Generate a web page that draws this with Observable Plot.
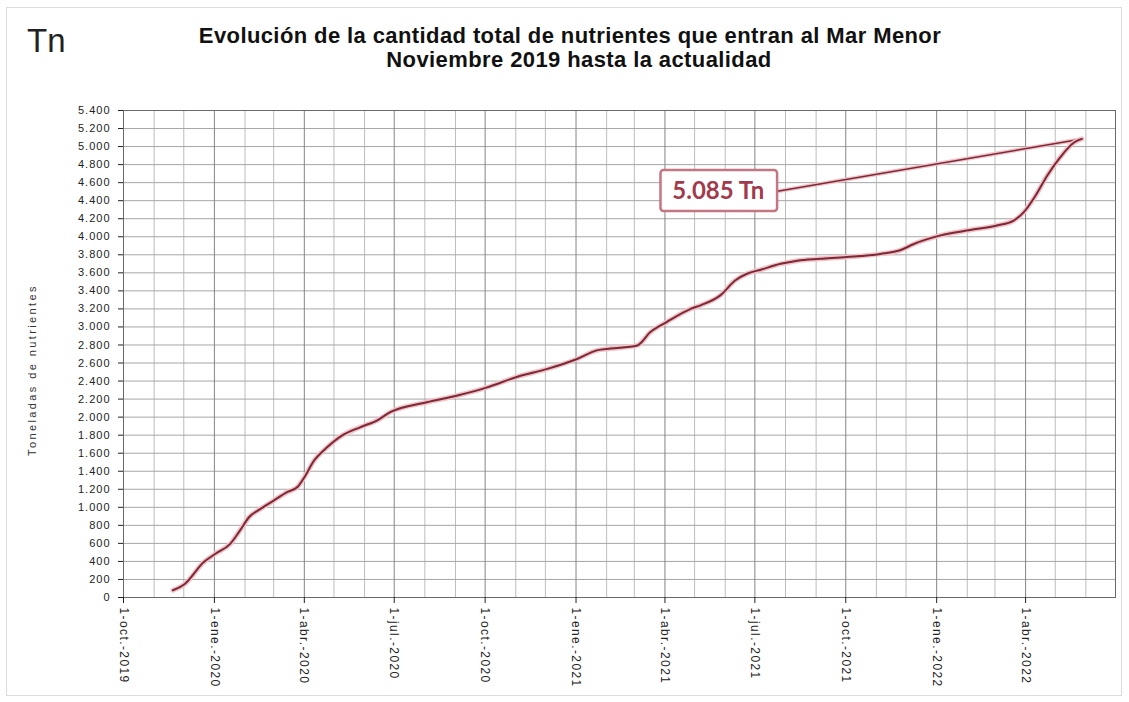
<!DOCTYPE html>
<html><head><meta charset="utf-8">
<script src="https://cdn.jsdelivr.net/npm/d3@7"></script>
<script src="https://cdn.jsdelivr.net/npm/@observablehq/plot@0.6"></script>
<style>
body{margin:0;background:#fff;font-family:"Liberation Sans",Arial,sans-serif;}
#wrap{position:relative;width:1129px;height:702px;overflow:hidden;background:#fff;}
#border{position:absolute;left:6px;top:7px;width:1116px;height:689px;border:1px solid #dcdcdc;box-sizing:border-box;}
#tn{position:absolute;left:27px;top:24px;font-size:33px;color:#222;line-height:1;}
.t{position:absolute;transform:translateX(-50%);white-space:nowrap;font-weight:bold;font-size:22px;letter-spacing:0.4px;color:#111;line-height:1;}
#ytitle{position:absolute;left:32px;top:370px;transform:translate(-50%,-50%) rotate(-90deg);white-space:nowrap;font-size:11px;letter-spacing:2.4px;color:#333;line-height:1;}
#chart{position:absolute;left:0;top:100px;}
</style></head>
<body><div id="wrap"><div id="border"></div><div id="tn">Tn</div>
<div class="t" style="left:570px;top:25px">Evolución de la cantidad total de nutrientes que entran al Mar Menor</div>
<div class="t" style="left:579px;top:49px">Noviembre 2019 hasta la actualidad</div>
<div id="chart"></div>
<div id="ytitle">Toneladas de nutrientes</div></div>
<script>
const dates = ["2019-11-20","2019-12-02","2019-12-21","2020-01-02","2020-01-17","2020-01-27","2020-02-05","2020-02-17","2020-03-01","2020-03-15","2020-03-25","2020-03-31","2020-04-11","2020-04-24","2020-05-09","2020-05-28","2020-06-14","2020-06-27","2020-08-03","2020-09-03","2020-10-03","2020-11-02","2020-12-03","2021-01-02","2021-01-22","2021-02-05","2021-03-04","2021-03-17","2021-04-03","2021-04-27","2021-05-07","2021-05-27","2021-06-11","2021-06-23","2021-07-07","2021-07-27","2021-08-13","2021-09-05","2021-10-02","2021-11-05","2021-11-25","2021-12-09","2022-01-05","2022-02-04","2022-03-03","2022-03-20","2022-03-30","2022-04-11","2022-04-23","2022-05-06","2022-05-20","2022-05-28"];
const values = [80,150,390,485,595,745,890,985,1075,1170,1225,1315,1520,1665,1795,1890,1965,2055,2165,2240,2330,2445,2535,2645,2740,2760,2795,2940,3055,3200,3240,3350,3515,3590,3635,3700,3735,3755,3775,3810,3850,3920,4015,4075,4125,4180,4270,4455,4680,4880,5045,5085];
const tickDates = ["2019-10-01","2020-01-01","2020-04-01","2020-07-01","2020-10-01","2021-01-01","2021-04-01","2021-07-01","2021-10-01","2022-01-01","2022-04-01"];
const tickLabels = ["1-oct.-2019","1-ene.-2020","1-abr.-2020","1-jul.-2020","1-oct.-2020","1-ene.-2021","1-abr.-2021","1-jul.-2021","1-oct.-2021","1-ene.-2022","1-abr.-2022"];
const yTicks = d3.range(0, 5401, 200);
const annotationLabel = ["5.085 Tn"];
const annotationDate = ["2021-05-25"];
const annotationValue = [4505];
const boxStart = ["2021-03-28"];
const boxEnd = ["2021-07-24"];
const boxLow = [4280];
const boxHigh = [4735];

const parse = d3.utcParse("%Y-%m-%d");
const data = dates.map((d, i) => ({date: parse(d), value: values[i]}));
const last = data[data.length - 1];
const fmt = d3.formatLocale({decimal: ",", thousands: ".", grouping: [3], currency: ["", "€"]}).format(",d");
const major = tickDates.map(parse);
const majorSet = new Set(major.map(d => +d));
const months = d3.utcMonth.range(parse("2019-10-01"), parse("2022-07-02"));
const minor = months.filter(d => !majorSet.has(+d));
const labelMap = new Map(major.map((d, i) => [+d, tickLabels[i]]));
const ann = annotationLabel.map((t, i) => ({
  text: t, date: parse(annotationDate[i]), value: annotationValue[i],
  x1: parse(boxStart[i]), x2: parse(boxEnd[i]), y1: boxLow[i], y2: boxHigh[i],
  ex: last.date, ey: last.value
}));
const lineColor = "#7a2a36";

const chart = Plot.plot({
  width: 1129, height: 602,
  marginTop: 10, marginBottom: 105, marginLeft: 123, marginRight: 14,
  style: {fontFamily: "Liberation Sans, Arial, sans-serif", fontSize: "11px", color: "#222", background: "transparent"},
  x: {type: "utc", domain: [parse("2019-10-01"), parse("2022-07-01")]},
  y: {domain: [0, 5400]},
  marks: [
    Plot.ruleX(minor, {stroke: "#bdbdbd", strokeWidth: 1}),
    Plot.ruleY(yTicks, {stroke: "#a6a6a6", strokeWidth: 1}),
    Plot.ruleX(major, {stroke: "#858585", strokeWidth: 1}),
    Plot.frame({stroke: "#6a6a6a"}),
    Plot.axisY({ticks: yTicks, tickFormat: fmt, tickSize: 5, tickPadding: 8, fontSize: 11, label: null}),
    Plot.axisX({ticks: major, tickFormat: d => labelMap.get(+d), tickRotate: 90, tickSize: 6, tickPadding: 4, fontSize: 12, label: null}),
    Plot.link(ann, {x1: "x2", y1: "value", x2: "ex", y2: "ey", stroke: "#f3c2c8", strokeWidth: 4}),
    Plot.link(ann, {x1: "x2", y1: "value", x2: "ex", y2: "ey", stroke: lineColor, strokeWidth: 1.5}),
    Plot.line(data, {x: "date", y: "value", curve: "monotone-x", stroke: "#f3c2c8", strokeWidth: 5}),
    Plot.line(data, {x: "date", y: "value", curve: "monotone-x", stroke: lineColor, strokeWidth: 2}),
    Plot.rect(ann, {x1: "x1", x2: "x2", y1: "y1", y2: "y2", fill: "white", stroke: "#c47682", strokeWidth: 2.5, rx: 3}),
    Plot.text(ann, {x: "date", y: "value", text: "text", fill: "#a23a4b", fontSize: 24, fontWeight: "bold", fontFamily: "Lato, Open Sans, sans-serif"})
  ]
});
document.getElementById("chart").append(chart);
const svg = d3.select(chart);
svg.selectAll("g[aria-label='x-axis tick label'] text").style("letter-spacing", "1.4px");
svg.selectAll("g[aria-label='y-axis tick label'] text").style("letter-spacing", "1px");
</script>
</body></html>
